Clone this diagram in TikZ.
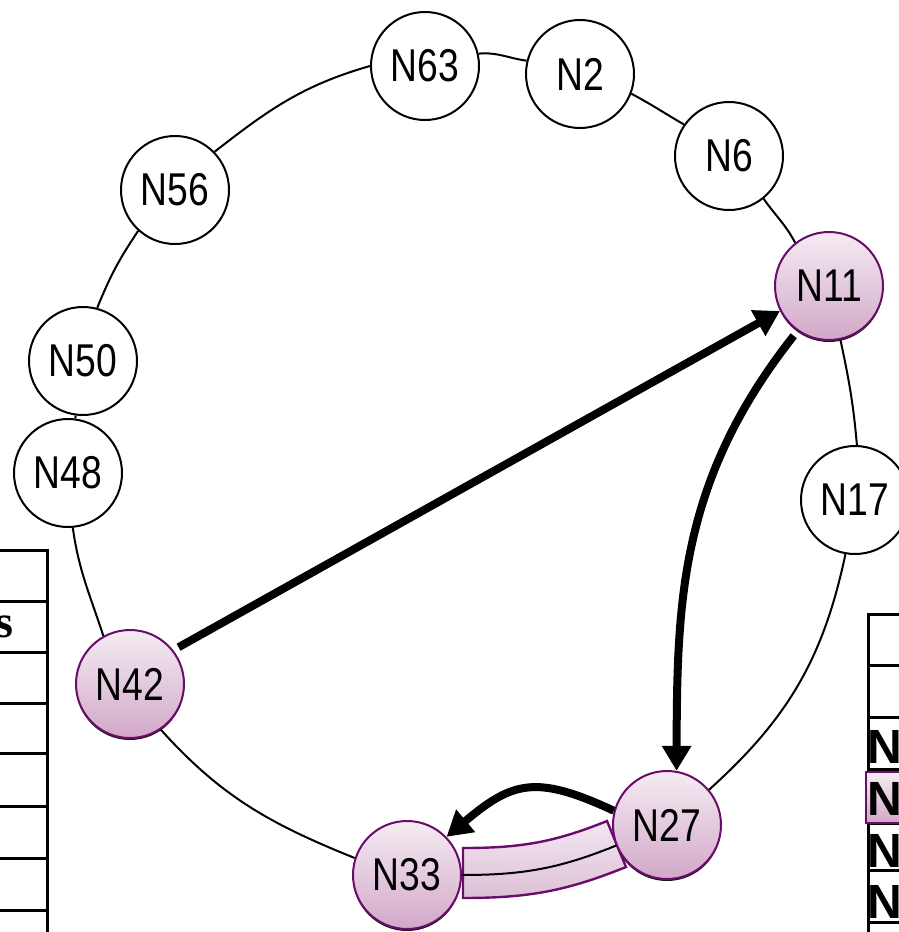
\documentclass[tikz,border=0pt]{standalone}
\usepackage{fontspec}
\newfontfamily\narrowsans[FakeStretch=0.81]{Liberation Sans}
\newfontfamily\tabsans{Liberation Sans}
\newfontfamily\tabserif{Liberation Serif}
\usetikzlibrary{arrows.meta,shadows}
\definecolor{pTop}{RGB}{245,236,243}
\definecolor{pBot}{RGB}{210,168,200}
\definecolor{pEdge}{RGB}{106,12,106}
\definecolor{bandTop}{RGB}{244,231,241}
\definecolor{bandBot}{RGB}{220,192,213}
\begin{document}
\begin{tikzpicture}[x=1pt,y=1pt,
  nodebase/.style={circle, line width=2pt, minimum size=108pt, inner sep=0pt,
    font=\narrowsans\fontsize{46}{50}\selectfont},
  ringnode/.style={nodebase, draw=black, fill=white},
  hotnode/.style={nodebase, draw=pEdge, top color=pTop, bottom color=pBot,
    drop shadow={shadow xshift=0pt, shadow yshift=-2pt, opacity=0.9, fill=black}},
  ring/.style={line width=2pt, black},
  hop/.style={line width=8pt, black, -{Triangle[length=25pt,width=28pt]}},
  tabline/.style={line width=3pt, black},
  tabtxt/.style={inner sep=0pt, font=\tabsans\bfseries\fontsize{48}{50}\selectfont}]
\useasboundingbox (0,-932) rectangle (898,0);

% highlighted link band
\draw[line width=2.4pt, draw=pEdge, top color=bandTop, bottom color=bandBot]
  (463,-848) to[out=0,in=202] (607,-821) -- (626,-867) to[out=202,in=0] (463,-898) -- cycle;

% nodes
\node[ringnode] (N63) at (425,-66) {N63};
\node[ringnode] (N2) at (580,-74) {N2};
\node[ringnode] (N6) at (729,-156) {N6};
\node[hotnode] (N11) at (829,-286) {N11};
\node[ringnode] (N17) at (855,-500) {N17};
\node[hotnode] (N27) at (667,-825) {N27};
\node[hotnode] (N33) at (407,-875) {N33};
\node[hotnode] (N42) at (130,-684) {N42};
\node[ringnode] (N48) at (68,-473) {N48};
\node[ringnode] (N50) at (83,-361) {N50};
\node[ringnode] (N56) at (175,-190) {N56};

% ring
\draw[ring] (N63.13) to[out=5,in=172] (N2.166);
\draw[ring] (N2.-21) to[out=-28,in=150] (N6.145);
\draw[ring] (N6.-51) to[out=-55,in=118] (N11.128);
\draw[ring] (N11.-78) to[out=-78,in=95] (N17.88);
\draw[ring] (N17.260) to[out=258,in=42] (N27.40);
\draw[ring] (N33.0) to[out=0,in=202] (N27.202);
\draw[ring] (N33.162) to[out=158,in=-48] (N42.304);
\draw[ring] (N42.119) to[out=108,in=-82] (N48.275);
\draw[ring] (N48) -- (N50);
\draw[ring] (N50.75) to[out=68,in=236] (N56.228);
\draw[ring] (N56.44) to[out=38,in=196] (N63.180);

% lookup hops
\draw[hop, shorten <=6pt] (N42.38) -- (N11.207);
\draw[hop, shorten <=6pt] (N11.235) .. controls (680,-480) and (677,-600) .. (N27.80);
\draw[hop] (N27.165) to[out=155,in=40,looseness=1.3] (N33.44);

% left table (cut off)
\draw[tabline] (47,-548.5) -- (47,-940);
\foreach \y in {550,601,652,703,753,806,858,910} \draw[tabline] (-5,-\y) -- (47,-\y);
\node[anchor=base east, inner sep=0pt, font=\tabserif\bfseries\fontsize{46}{50}\selectfont] (sTxt) at (14,-637) {s};

% right table (cut off)
\draw[tabline] (868,-612.5) -- (868,-940);
\foreach \y in {614,665,717,769,823,870,922} \draw[tabline] (868,-\y) -- (905,-\y);
\draw[line width=2pt, draw=pEdge, top color=pTop, bottom color=pBot] (866,-772) rectangle (910,-823);
\node[tabtxt, anchor=base west] (t1) at (867.5,-763) {N};
\node[tabtxt, anchor=base west] (t2) at (867.5,-815) {N};
\node[tabtxt, anchor=base west] (t3) at (867.5,-867) {N};
\node[tabtxt, anchor=base west] (t4) at (867.5,-918) {N};
\end{tikzpicture}
\end{document}
